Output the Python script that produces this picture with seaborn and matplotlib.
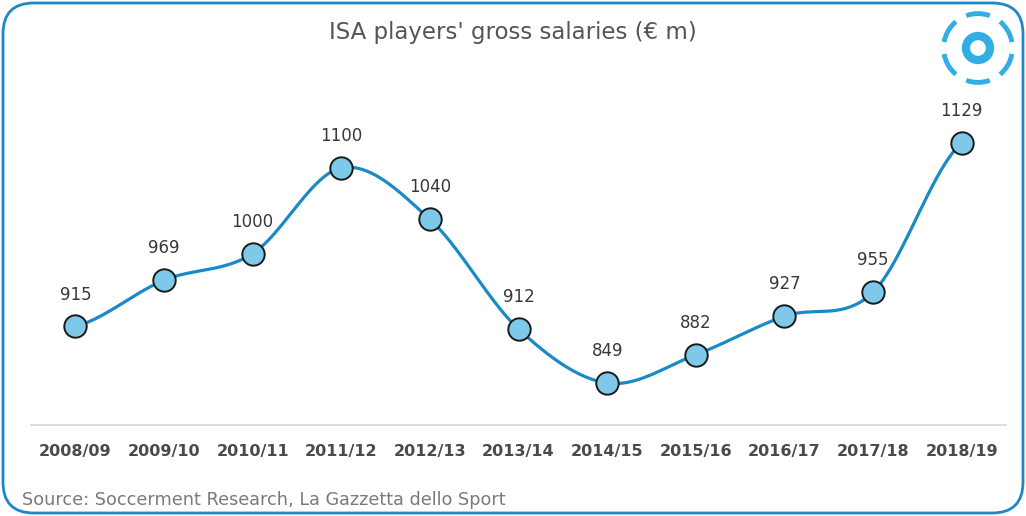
import numpy as np
import pandas as pd
import matplotlib
matplotlib.use("Agg")
import matplotlib.pyplot as plt
import seaborn as sns
from matplotlib.patches import FancyBboxPatch, Arc, Circle

seasons = ["2008/09", "2009/10", "2010/11", "2011/12", "2012/13", "2013/14",
           "2014/15", "2015/16", "2016/17", "2017/18", "2018/19"]
salaries = [915, 969, 1000, 1100, 1040, 912, 849, 882, 927, 955, 1129]

df = pd.DataFrame({"Season": seasons, "Salary": salaries})
df["pos"] = range(len(df))

sns.set_style("white")
plt.rcParams["font.family"] = ["DejaVu Sans"]

W, H = 1026, 516
fig = plt.figure(figsize=(W / 100, H / 100), dpi=100)
ax = fig.add_axes([31 / W, 1 - 425 / H, (1006 - 31) / W, (425 - 60) / H])

line_col = "#1a8ac6"
text_col = "#4a4a4a"

# smooth curve through the points (Catmull-Rom style)
px = df["pos"].to_numpy(dtype=float)
py = df["Salary"].to_numpy(dtype=float)
n = len(px)
curve_x, curve_y = [], []
for i in range(n - 1):
    m0 = (py[i + 1] - py[i - 1]) / 2 if i > 0 else (py[1] - py[0]) * 0.5
    m1 = (py[i + 2] - py[i]) / 2 if i < n - 2 else (py[-1] - py[-2]) * 0.5
    t = np.linspace(0, 1, 40)
    h00 = 2 * t**3 - 3 * t**2 + 1
    h10 = t**3 - 2 * t**2 + t
    h01 = -2 * t**3 + 3 * t**2
    h11 = t**3 - t**2
    curve_x.extend(px[i] + t)
    curve_y.extend(h00 * py[i] + h10 * m0 + h01 * py[i + 1] + h11 * m1)
ax.plot(curve_x, curve_y, color=line_col, lw=2.3, zorder=2, solid_capstyle="round")

sns.scatterplot(data=df, x="pos", y="Salary", ax=ax, s=260, color="#7ec8ea",
                edgecolor="#1a1a1a", linewidth=1.4, zorder=3, legend=False)

for _, row in df.iterrows():
    ax.annotate(f"{row['Salary']}", (row["pos"], row["Salary"]),
                textcoords="offset points", xytext=(0, 16.5), ha="center", va="bottom",
                fontsize=12, color="#383838")

ax.set_xlim(-0.5, n - 0.5)
ax.set_ylim(800, 1226)
ax.set_xticks(range(n))
ax.set_xticklabels(seasons, fontsize=11.5, fontweight="bold", color=text_col)
ax.set_yticks([])
ax.set_xlabel("")
ax.set_ylabel("")
ax.tick_params(axis="x", length=0, pad=14)
for side in ["top", "left", "right"]:
    ax.spines[side].set_visible(False)
ax.spines["bottom"].set_color("#d6d6d6")
ax.spines["bottom"].set_linewidth(1.2)
ax.patch.set_alpha(0)

fig.text(0.5, 1 - 33 / H, "ISA players' gross salaries (€ m)", ha="center", va="center",
         fontsize=16.5, color="#555555")
fig.text(22 / W, 1 - 500 / H, "Source: Soccerment Research, La Gazzetta dello Sport",
         ha="left", va="center", fontsize=12.7, color="#7a7a7a")

# rounded frame
frame = FancyBboxPatch((3 / W, 3 / H), (W - 6) / W, (H - 6) / H,
                       boxstyle="round,pad=0,rounding_size=0.03",
                       transform=fig.transFigure, fill=False,
                       edgecolor="#1e88c7", linewidth=2, mutation_aspect=W / H)
fig.patches.append(frame)

# logo
logo_ax = fig.add_axes([938 / W, 1 - 88 / H, 80 / W, 80 / H])
logo_ax.set_xlim(-1, 1)
logo_ax.set_ylim(-1, 1)
logo_ax.set_aspect("equal")
logo_ax.axis("off")
logo_col = "#33aee4"
logo_ax.add_patch(Circle((0, 0), 0.3, fill=False, edgecolor=logo_col, linewidth=6))
for ang in range(30, 360, 60):
    logo_ax.add_patch(Arc((0, 0), 1.72, 1.72, theta1=ang - 20, theta2=ang + 20,
                          edgecolor=logo_col, linewidth=3.5))

fig.savefig("out.png", dpi=100)
